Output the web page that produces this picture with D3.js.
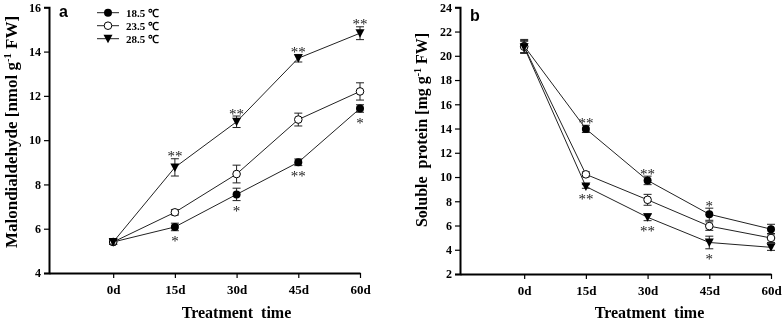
<!DOCTYPE html>
<html>
<head>
<meta charset="utf-8">
<script src="https://cdn.jsdelivr.net/npm/d3@7"></script>
<style>
html,body{margin:0;padding:0;background:#fff;}
svg{display:block;filter:grayscale(100%);}
text{font-family:"Liberation Serif","Times New Roman",serif;font-weight:bold;fill:#000;}
</style>
</head>
<body>
<svg id="chart" width="784" height="323"></svg>
<script>
// ---- data ----
const days = [0, 15, 30, 45, 60];
const dayLabels = ["0d", "15d", "30d", "45d", "60d"];
const seriesNames = ["18.5 \u2103", "23.5 \u2103", "28.5 \u2103"];

// Panel a: Malondialdehyde
const mdaLow  = [5.4, 6.08, 7.55, 9.0, 11.43];
const mdaMid  = [5.4, 6.74, 8.47, 10.93, 12.2];
const mdaHigh = [5.4, 8.77, 10.83, 13.7, 14.83];
const mdaLowErr  = [0.1, 0.17, 0.28, 0.15, 0.17];
const mdaMidErr  = [0.1, 0.12, 0.4, 0.29, 0.39];
const mdaHighErr = [0.1, 0.39, 0.26, 0.17, 0.29];
const mdaLowSig  = ["", "*", "*", "**", "*"];
const mdaMidSig  = ["", "", "", "", ""];
const mdaHighSig = ["", "**", "**", "**", "**"];
const mdaTicks = [4, 6, 8, 10, 12, 14, 16];

// Panel b: Soluble protein
const protLow  = [20.8, 13.97, 9.72, 6.93, 5.7];
const protMid  = [20.75, 10.22, 8.12, 5.95, 4.97];
const protHigh = [20.7, 9.22, 6.68, 4.6, 4.2];
const protLowErr  = [0.55, 0.3, 0.35, 0.5, 0.4];
const protMidErr  = [0.5, 0.2, 0.45, 0.35, 0.37];
const protHighErr = [0.5, 0.15, 0.28, 0.52, 0.25];
const protLowSig  = ["", "**", "**", "*", ""];
const protMidSig  = ["", "", "", "", ""];
const protHighSig = ["", "**", "**", "*", ""];
const protTicks = [2, 4, 6, 8, 10, 12, 14, 16, 18, 20, 22, 24];

const svg = d3.select("#chart");

function panel(opt) {
  const x = d3.scaleLinear().domain([-15.6, 60]).range([opt.x0, opt.x1]);
  const y = d3.scaleLinear().domain(opt.ydom).range([opt.yb, opt.yt]);
  const g = svg.append("g");

  // axes
  const ya = g.append("g").attr("transform", `translate(${opt.x0},0)`)
    .call(d3.axisLeft(y).tickValues(opt.yticks).tickSize(5).tickPadding(3).tickFormat(d3.format("d")));
  ya.select(".domain").attr("stroke-width", 2);
  ya.selectAll(".tick line").attr("stroke-width", 1.2);
  ya.selectAll("text").style("font-size", "12px").style("font-family", '"Liberation Serif",serif').style("font-weight", "bold");

  const xa = g.append("g").attr("transform", `translate(0,${opt.yb})`)
    .call(d3.axisBottom(x).tickValues(days).tickSize(5).tickPadding(7).tickFormat((d, i) => dayLabels[i]).tickSizeOuter(0));
  xa.select(".domain").attr("stroke-width", 2);
  xa.selectAll(".tick line").attr("stroke-width", 1.2);
  xa.selectAll("text").style("font-size", "13px").style("font-family", '"Liberation Serif",serif').style("font-weight", "bold");

  // axis titles
  g.append("text").attr("x", (opt.x0 + opt.x1) / 2 + opt.xtDx).attr("y", 318)
    .attr("text-anchor", "middle").style("font-size", "16px")
    .attr("xml:space", "preserve").text("Treatment  time");

  const yt = g.append("text")
    .attr("transform", `translate(${opt.ytX},${opt.ytY}) rotate(-90)`)
    .attr("text-anchor", "middle").style("font-size", opt.ytSize + "px")
    .attr("xml:space", "preserve");
  yt.append("tspan").text(opt.ytitle[0]);
  yt.append("tspan").attr("dy", -6).style("font-size", (opt.ytSize * 0.62) + "px").text("-1");
  yt.append("tspan").attr("dy", 6).text(opt.ytitle[1]);

  // panel letter
  g.append("text").attr("x", opt.x0 + 10).attr("y", opt.letterY)
    .style("font-family", '"Liberation Sans",Arial,sans-serif').style("font-size", "16px")
    .text(opt.letter);

  const line = d3.line().x((d, i) => x(days[i])).y(d => y(d));
  const markers = ["filled", "open", "tri"];

  opt.series.forEach((s) => {
    g.append("path").datum(s.v).attr("d", line)
      .attr("fill", "none").attr("stroke", "#222").attr("stroke-width", 1);
  });

  const sigG = g.append("g").attr("class", "sig");

  opt.series.forEach((s, si) => {
    const sg = g.append("g");
    // error bars
    s.v.forEach((v, i) => {
      const cx = x(days[i]);
      const t = y(v + s.e[i]), b = y(v - s.e[i]);
      sg.append("line").attr("x1", cx).attr("x2", cx).attr("y1", t).attr("y2", b).attr("stroke", "#222").attr("stroke-width", 1);
      sg.append("line").attr("x1", cx - 4).attr("x2", cx + 4).attr("y1", t).attr("y2", t).attr("stroke", "#222").attr("stroke-width", 1);
      sg.append("line").attr("x1", cx - 4).attr("x2", cx + 4).attr("y1", b).attr("y2", b).attr("stroke", "#222").attr("stroke-width", 1);
    });
    // markers
    s.v.forEach((v, i) => drawMarker(sg, markers[si], x(days[i]), y(v)));
    // significance
    s.v.forEach((v, i) => {
      const sig = s.sig[i];
      if (!sig) return;
      const above = s.pos[i] === "a";
      const cy = above ? y(v + s.e[i]) - 5 : y(v - s.e[i]) + 8;
      sigG.append("text").attr("x", x(days[i])).attr("y", cy + 7.5)
        .attr("text-anchor", "middle").style("font-size", "15px").style("font-weight", "normal")
        .style("fill", "#222").text(sig);
    });
  });
  sigG.raise();
}

function drawMarker(g, type, cx, cy) {
  if (type === "filled") {
    g.append("circle").attr("cx", cx).attr("cy", cy).attr("r", 4).attr("fill", "#000");
  } else if (type === "open") {
    g.append("circle").attr("cx", cx).attr("cy", cy).attr("r", 3.8).attr("fill", "#fff").attr("stroke", "#000").attr("stroke-width", 1);
  } else {
    g.append("path").attr("d", `M${cx - 4.5},${cy - 4}L${cx + 4.5},${cy - 4}L${cx},${cy + 4.5}Z`).attr("fill", "#000");
  }
}

panel({
  x0: 49, x1: 360, yt: 7.3, yb: 273, ydom: [4, 16], yticks: mdaTicks,
  letter: "a", letterY: 17, xtDx: 32,
  ytitle: ["Malondialdehyde [nmol g", " FW]"], ytX: 17, ytY: 132, ytSize: 17,
  series: [
    { v: mdaLow, e: mdaLowErr, sig: mdaLowSig, pos: ["b", "b", "b", "b", "b"] },
    { v: mdaMid, e: mdaMidErr, sig: mdaMidSig, pos: ["a", "a", "a", "a", "a"] },
    { v: mdaHigh, e: mdaHighErr, sig: mdaHighSig, pos: ["a", "a", "a", "a", "a"] }
  ]
});

panel({
  x0: 460, x1: 771, yt: 7.3, yb: 274, ydom: [2, 24], yticks: protTicks,
  letter: "b", letterY: 21, xtDx: 34,
  ytitle: ["Soluble  protein [mg g", " FW]"], ytX: 427, ytY: 130, ytSize: 16,
  series: [
    { v: protLow, e: protLowErr, sig: protLowSig, pos: ["a", "a", "a", "a", "a"] },
    { v: protMid, e: protMidErr, sig: protMidSig, pos: ["a", "a", "a", "a", "a"] },
    { v: protHigh, e: protHighErr, sig: protHighSig, pos: ["b", "b", "b", "b", "b"] }
  ]
});

// legend (panel a)
const legend = svg.append("g");
seriesNames.forEach((name, i) => {
  const ly = 12.7 + i * 13;
  legend.append("line").attr("x1", 97).attr("x2", 119).attr("y1", ly).attr("y2", ly).attr("stroke", "#222").attr("stroke-width", 1);
  drawMarker(legend, ["filled", "open", "tri"][i], 108, ly);
  legend.append("text").attr("x", 126).attr("y", ly + 4).style("font-size", "11px").text(name);
});
</script>
</body>
</html>
